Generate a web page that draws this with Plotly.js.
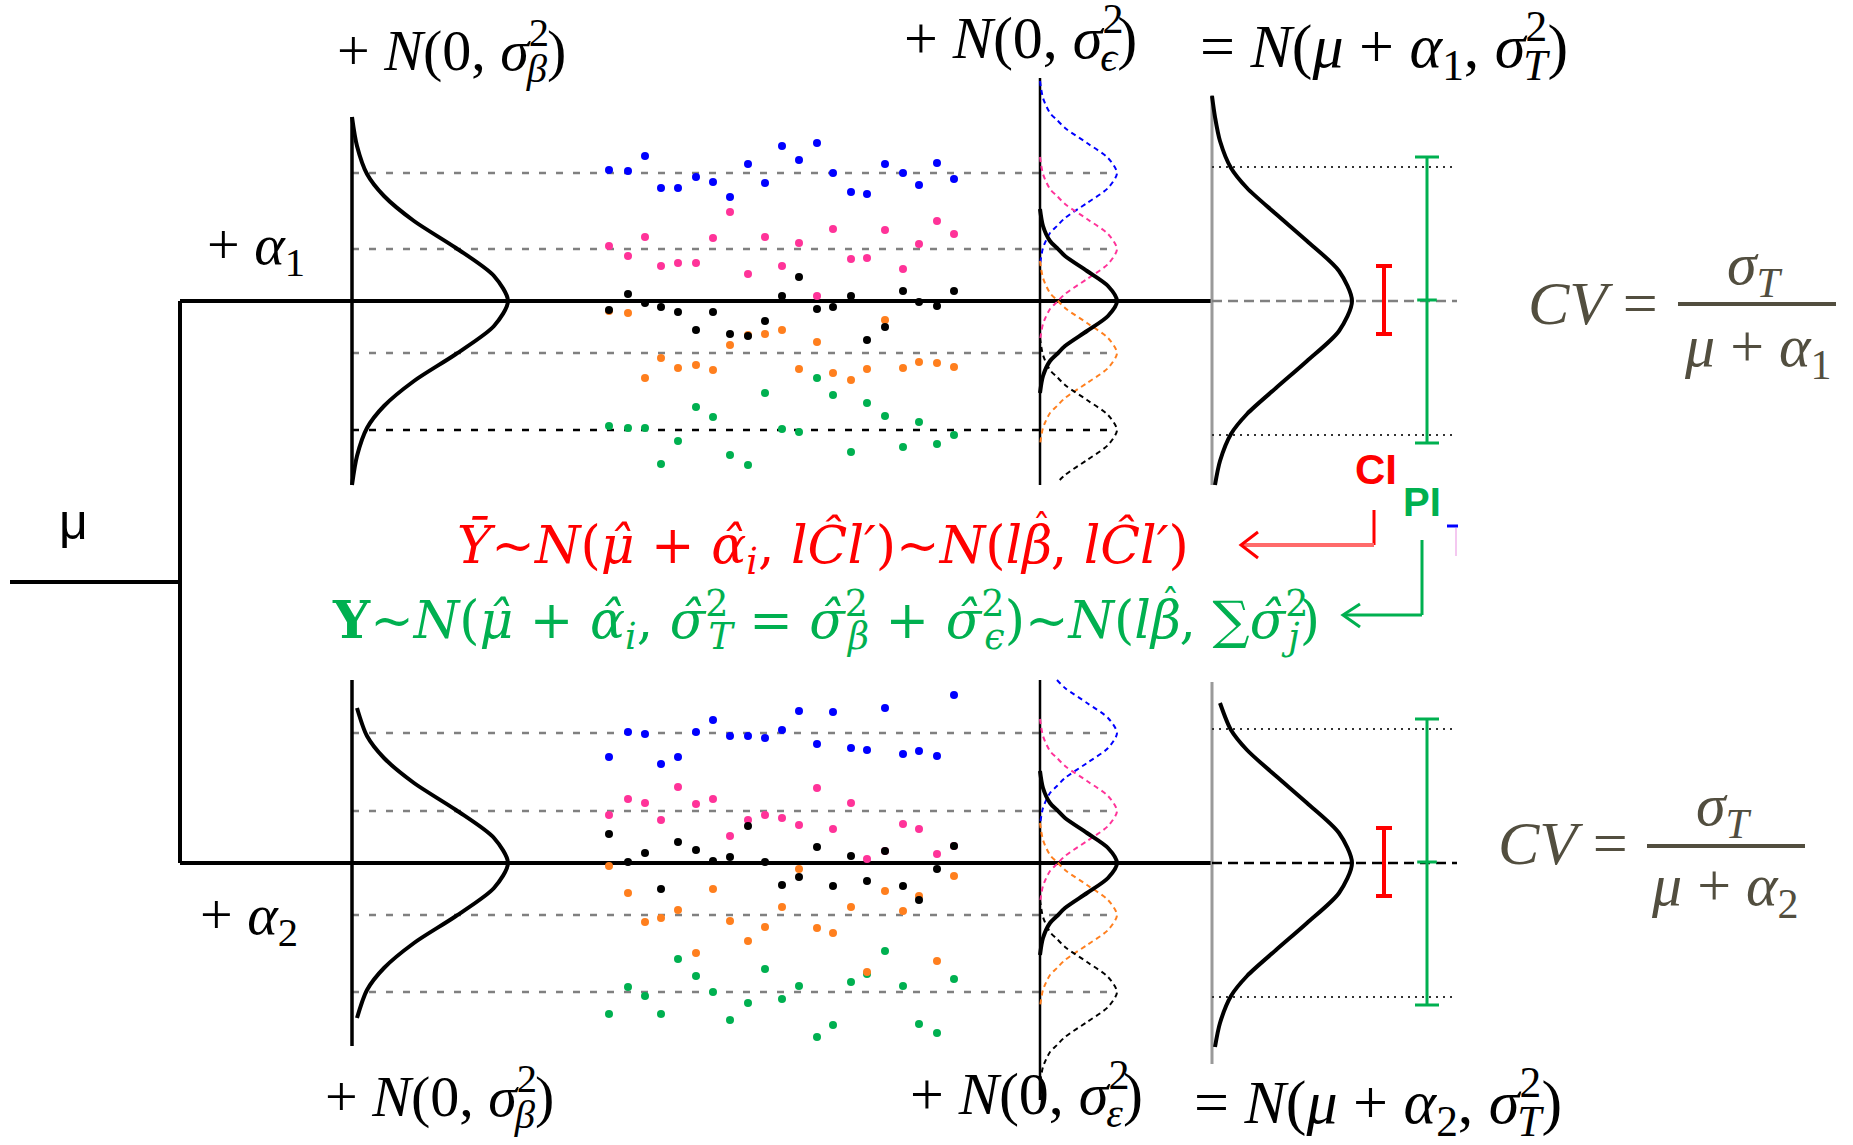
<!DOCTYPE html>
<html>
<head>
<meta charset="utf-8">
<script src="https://cdn.plot.ly/plotly-3.0.1.min.js"></script>
<style>
html,body{margin:0;padding:0;background:#fff;overflow:hidden}
#chart{width:1853px;height:1145px}
</style>
</head>
<body>
<div id="chart"></div>
<script>
// ---------- data ----------
// x positions of the replicate columns (shared by both groups)
const dotColumns = [609, 628, 645, 661, 678, 696, 713, 730, 748, 765, 782, 799, 817, 833, 851, 867, 885, 903, 919, 937, 954];

// group 1 observations, one series per block level
const g1Blue   = [170, 171, 156, 188, 188, 177, 182, 197, 164, 183, 146, 160, 143, 173, 192, 194, 164, 173, 185, 163, 179];
const g1Pink   = [246, 256, 237, 266, 263, 263, 238, 212, 274, 237, 266, 243, 296, 229, 259, 258, 230, 269, 244, 221, 234];
const g1Black  = [310, 294, 303, 307, 312, 330, 312, 334, 336, 321, 296, 277, 309, 307, 296, 340, 327, 291, 302, 306, 291];
const g1Orange = [311, 313, 378, 358, 368, 365, 370, 345, 335, 334, 330, 369, 342, 373, 380, 369, 320, 368, 362, 363, 367];
const g1Green  = [426, 428, 428, 464, 441, 407, 417, 455, 465, 393, 429, 432, 378, 395, 452, 403, 416, 447, 422, 444, 435];

// group 2 observations
const g2Blue   = [757, 732, 734, 764, 757, 732, 720, 736, 736, 738, 730, 711, 744, 712, 748, 750, 708, 754, 751, 756, 695];
const g2Pink   = [815, 799, 803, 820, 787, 804, 799, 836, 820, 815, 818, 825, 788, 829, 803, 859, 851, 824, 829, 854, 846];
const g2Black  = [834, 862, 853, 889, 842, 850, 861, 857, 826, 862, 885, 877, 847, 886, 856, 881, 851, 886, 900, 869, 846];
const g2Orange = [866, 893, 922, 918, 910, 953, 889, 921, 941, 927, 907, 869, 928, 933, 907, 972, 891, 911, 896, 961, 876];
const g2Green  = [1014, 987, 996, 1014, 959, 976, 992, 1020, 1003, 969, 999, 986, 1037, 1025, 982, 974, 951, 986, 1024, 1033, 979];

// levels: grand mean, the two group means and the block means
const grandMeanLevel = 582;
const groupLevels = [301, 863];
const blockLevels = [[173, 249, 353, 430], [733, 811, 915, 992]];
const blockColors = ['#0000ff', '#ff3399', '#ff7f1e', '#000000'];

// half widths of the intervals drawn at the right
const ciHalf = [34, 34];
const piHalf = [143, 143];
const intervalCentre = [300, 862];

// bell profiles: vertical offset from the centre and horizontal height of the curve
const betaOffsets  = [0, 25, 53, 80, 105, 127, 155, 184];
const betaHeights  = [156, 142, 104, 62, 32, 15, 5, 0];
const epsOffsets   = [0, 15, 30, 45, 53, 60, 75, 92];
const epsHeights   = [77, 68, 47, 25, 17, 10, 3, 0];
const totalOffsets = [0, 30, 60, 87, 113, 133, 160, 184, 205];
const totalHeights = [140, 127, 95, 64, 35, 19, 8, 3, 0];

// ---------- drawing helpers ----------
const BLACK = '#000000';
const GRAY = '#808080';
const GREEN = '#00b050';
const RED = '#ff0000';
const SERIF = 'Liberation Serif, DejaVu Serif, serif';
const MATH = 'DejaVu Serif, Liberation Serif, serif';
const SANS = 'Liberation Sans, Arial, sans-serif';

const traces = [];
const shapes = [];
const annotations = [];

function bell(x0, yc, offs, hs, upLimit, downLimit) {
  const xs = [], ys = [];
  for (let i = offs.length - 1; i > 0; i--) {
    if (offs[i] <= upLimit) { xs.push(x0 + hs[i]); ys.push(yc - offs[i]); }
  }
  for (let i = 0; i < offs.length; i++) {
    if (offs[i] <= downLimit) { xs.push(x0 + hs[i]); ys.push(yc + offs[i]); }
  }
  return { xs, ys };
}

function curve(c, color, width, dash) {
  traces.push({
    type: 'scatter', mode: 'lines', x: c.xs, y: c.ys, hoverinfo: 'skip',
    line: { color: color, width: width, shape: 'spline', smoothing: 0.8, dash: dash || 'solid' }
  });
}

function seg(x0, y0, x1, y1, color, width, dash) {
  shapes.push({ type: 'line', xref: 'x', yref: 'y', x0, y0, x1, y1,
    line: { color, width, dash: dash || 'solid' }, layer: 'below' });
}

function path(d, color, width) {
  shapes.push({ type: 'path', xref: 'x', yref: 'y', path: d, line: { color, width }, layer: 'above' });
}

function text(t, x, y, opts) {
  const o = opts || {};
  annotations.push({
    text: t, x, y, xref: 'x', yref: 'y', showarrow: false,
    xanchor: o.xanchor || 'left', yanchor: o.yanchor || 'middle',
    font: { family: o.family || SERIF, size: o.size || 58, color: o.color || BLACK }
  });
}

// ---------- tree of effects ----------
seg(10, grandMeanLevel, 180, grandMeanLevel, BLACK, 4);
seg(180, groupLevels[0], 180, groupLevels[1], BLACK, 4);

const groupDots = [
  [g1Blue, g1Pink, g1Green, g1Orange, g1Black],
  [g2Blue, g2Pink, g2Green, g2Orange, g2Black]
];
const dotColors = ['#0000ff', '#ff3399', '#00b050', '#ff7f1e', '#000000'];

const betaTop = [117, 680], betaBottom = [485, 1046];
const epsTop = [78, 680], epsBottom = [485, 1100];
const totTop = [95, 682], totBottom = [485, 1064];
const BETA_X = 352, EPS_X = 1040, TOT_X = 1212;

for (let g = 0; g < 2; g++) {
  const lvl = groupLevels[g];
  // group line through the whole panel
  seg(180, lvl, TOT_X, lvl, BLACK, 4);
  // dashed block means
  blockLevels[g].forEach(function (b, k) {
    const c = (g === 0 && k === 3) ? BLACK : GRAY;
    seg(BETA_X, b, 1117, b, c, 2.5, '7px,10px');
  });
  // block-effect distribution
  seg(BETA_X, betaTop[g], BETA_X, betaBottom[g], BLACK, 3.5);
  curve(bell(BETA_X, lvl, betaOffsets, betaHeights, lvl - betaTop[g], betaBottom[g] - lvl), BLACK, 4);

  // residual distributions around every block mean
  seg(EPS_X, epsTop[g], EPS_X, epsBottom[g], BLACK, 2.5);
  blockLevels[g].forEach(function (b, k) {
    curve(bell(EPS_X, b, epsOffsets, epsHeights, b - epsTop[g], epsBottom[g] - b), blockColors[k], 2, '5px,4px');
  });
  curve(bell(EPS_X, lvl, epsOffsets, epsHeights, 92, 92), BLACK, 4);

  // total distribution
  seg(TOT_X, totTop[g], TOT_X, totBottom[g], '#9a9a9a', 3);
  seg(TOT_X, lvl, 1457, lvl, g === 0 ? GRAY : BLACK, 2.5, '10px,6px');
  seg(TOT_X, lvl - 134, 1457, lvl - 134, '#333333', 2, '2px,5px');
  seg(TOT_X, lvl + 134, 1457, lvl + 134, '#333333', 2, '2px,5px');
  curve(bell(TOT_X, lvl, totalOffsets, totalHeights, lvl - totTop[g], totBottom[g] - lvl), BLACK, 4);

  // observations
  groupDots[g].forEach(function (series, k) {
    traces.push({
      type: 'scatter', mode: 'markers', x: dotColumns, y: series, hoverinfo: 'skip',
      marker: { color: dotColors[k], size: 8, line: { width: 0 } }
    });
  });

  // confidence and prediction intervals
  traces.push({
    type: 'scatter', mode: 'markers', x: [1384], y: [intervalCentre[g]], hoverinfo: 'skip',
    marker: { size: 1, color: 'rgba(0,0,0,0)' },
    error_y: { type: 'data', symmetric: true, array: [ciHalf[g]], color: RED, thickness: 4, width: 8 }
  });
  traces.push({
    type: 'scatter', mode: 'markers', x: [1427], y: [intervalCentre[g]], hoverinfo: 'skip',
    marker: { symbol: 'line-ew', size: 14, color: GREEN, line: { color: GREEN, width: 3 } },
    error_y: { type: 'data', symmetric: true, array: [piHalf[g]], color: GREEN, thickness: 3, width: 12 }
  });
}

// arrows from CI / PI to the estimated distributions
seg(1374, 510, 1374, 545, RED, 3);
seg(1374, 545, 1243, 545, '#ff6b6b', 4);
path('M1258,532 L1241,545 L1258,558', RED, 3);
seg(1422, 540, 1422, 615, GREEN, 3);
seg(1422, 615, 1345, 615, GREEN, 3);
path('M1360,604 L1343,615 L1360,627', GREEN, 3);
seg(1447, 526, 1458, 526, '#0000ff', 3);
seg(1456, 528, 1456, 556, '#f4c8f0', 2);

// ---------- labels ----------
const ls = '<span style="letter-spacing:-0.55em">2</span>';
const betaHat = '<span style="letter-spacing:-0.38em"><i>β</i></span><sup>ˆ</sup>';
text('μ', 73, 522, { xanchor: 'center', family: SANS, size: 50 });
text('+ <i>α</i><sub>1</sub>', 205, 248);
text('+ <i>α</i><sub>2</sub>', 198, 918);

text('+ <i>N</i>(0, <i>σ</i><sup>' + ls + '</sup><sub><i>β</i></sub>)', 335, 54);
text('+ <i>N</i>(0, <i>σ</i><sup>' + ls + '</sup><sub><i>ϵ</i></sub>)', 902, 42, { size: 60 });
text('= <i>N</i>(<i>μ</i> + <i>α</i><sub>1</sub>, <i>σ</i><sup>' + ls + '</sup><sub><i>T</i></sub>)', 1198, 50, { size: 62 });
text('+ <i>N</i>(0, <i>σ</i><sup>' + ls + '</sup><sub><i>β</i></sub>)', 323, 1100);
text('+ <i>N</i>(0, <i>σ</i><sup>' + ls + '</sup><sub><i>ε</i></sub>)', 908, 1098, { size: 60 });
text('= <i>N</i>(<i>μ</i> + <i>α</i><sub>2</sub>, <i>σ</i><sup>' + ls + '</sup><sub><i>T</i></sub>)', 1192, 1106, { size: 62 });

text('<i>Ȳ</i>~<i>N</i>(<i>μ̂</i> + <i>α̂</i><sub><i>i</i></sub>, <i>lĈl′</i>)~<i>N</i>(<i>l</i>' + betaHat + ', <i>lĈl′</i>)',
  455, 545, { color: RED, family: MATH, size: 52 });
text('<b>Y</b>~<i>N</i>(<i>μ̂</i> + <i>α̂</i><sub><i>i</i></sub>, <i>σ̂</i><sup>' + ls + '</sup><sub><i>T</i></sub> = <i>σ̂</i><sup>' + ls + '</sup><sub><i>β</i></sub> + <i>σ̂</i><sup>' + ls + '</sup><sub><i>ϵ</i></sub>)~<i>N</i>(<i>l</i>' + betaHat + ', ∑<i>σ̂</i><sup>' + ls + '</sup><sub><i>j</i></sub>)',
  330, 620, { color: GREEN, family: MATH, size: 52 });

text('<b>CI</b>', 1376, 469, { xanchor: 'center', family: SANS, size: 42, color: RED });
text('<b>PI</b>', 1422, 502, { xanchor: 'center', family: SANS, size: 40, color: GREEN });

// coefficient of variation for both groups
const CV_COLOR = '#524e3f';
text('<i>CV</i> =', 1660, 303, { xanchor: 'right', size: 62, color: CV_COLOR });
text('<i>σ</i><sub><i>T</i></sub>', 1755, 268, { xanchor: 'center', size: 60, color: CV_COLOR });
text('<i>μ</i> + <i>α</i><sub>1</sub>', 1757, 350, { xanchor: 'center', size: 60, color: CV_COLOR });
seg(1678, 304, 1836, 304, CV_COLOR, 4);
text('<i>CV</i> =', 1630, 843, { xanchor: 'right', size: 62, color: CV_COLOR });
text('<i>σ</i><sub><i>T</i></sub>', 1724, 809, { xanchor: 'center', size: 60, color: CV_COLOR });
text('<i>μ</i> + <i>α</i><sub>2</sub>', 1724, 889, { xanchor: 'center', size: 60, color: CV_COLOR });
seg(1647, 846, 1805, 846, CV_COLOR, 4);

const layout = {
  width: 1853, height: 1145,
  margin: { l: 0, r: 0, t: 0, b: 0, pad: 0 },
  paper_bgcolor: '#ffffff', plot_bgcolor: '#ffffff',
  showlegend: false,
  xaxis: { range: [0, 1853], visible: false, fixedrange: true },
  yaxis: { range: [1145, 0], visible: false, fixedrange: true },
  shapes: shapes,
  annotations: annotations
};

Plotly.newPlot('chart', traces, layout, { staticPlot: true, displayModeBar: false });
</script>
</body>
</html>
